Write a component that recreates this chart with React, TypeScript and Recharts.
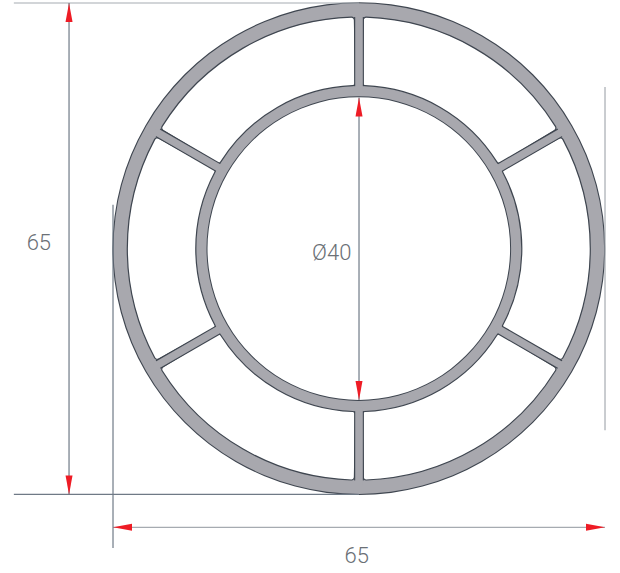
import { Pie, PieChart, Scatter, ScatterChart, XAxis, YAxis } from "recharts";

// drawing is in mm (65 across = 492px)
const discValue = [{ value: 1 }];
const cellValues = [1, 1, 1, 1, 1, 1].map((value) => ({ value }));

const spokes = [
  [{ x: 32.5, y: 54.0 }, { x: 32.5, y: 63.15 }],
  [{ x: 51.12, y: 43.25 }, { x: 59.04, y: 47.83 }],
  [{ x: 51.12, y: 21.75 }, { x: 59.04, y: 17.17 }],
  [{ x: 32.5, y: 11.0 }, { x: 32.5, y: 1.85 }],
  [{ x: 13.88, y: 21.75 }, { x: 5.96, y: 17.17 }],
  [{ x: 13.88, y: 43.25 }, { x: 5.96, y: 47.83 }],
];

const lightLines = [
  [{ x: -13.1, y: 65 }, { x: 32.5, y: 65 }],
  [{ x: 0, y: -4.36 }, { x: 65, y: -4.36 }],
  [{ x: 65, y: 53.9 }, { x: 65, y: 8.5 }],
];
const darkLines = [
  [{ x: -13.1, y: 0 }, { x: 32.5, y: 0 }],
  [{ x: 0, y: 38.3 }, { x: 0, y: -7.1 }],
  [{ x: -5.81, y: 0 }, { x: -5.81, y: 65 }],
  [{ x: 32.5, y: 12.5 }, { x: 32.5, y: 52.5 }],
];

const arrowTips = [
  { x: -5.81, y: 65, dir: "up" },
  { x: -5.81, y: 0, dir: "down" },
  { x: 32.5, y: 52.5, dir: "up" },
  { x: 32.5, y: 12.5, dir: "down" },
  { x: 0, y: -4.36, dir: "left" },
  { x: 65, y: -4.36, dir: "right" },
];

const dimensionLabels = [
  { x: -9.8, y: 33.3, text: "65" },
  { x: 32.2, y: -8.06, text: "65" },
  { x: 28.9, y: 32, text: "Ø40" },
];

const WIDTH = 620;
const HEIGHT = 573;
const RED = "#ee1c25";
const GREY = "#a8a8ae";
const OUTLINE = "#3f4650";

const layer = { position: "absolute", left: 0, top: 0 } as const;

function ArrowHead(props: any) {
  const { cx, cy, payload } = props;
  const len = 19;
  const half = 3.5;
  const pts: Record<string, string> = {
    up: `${cx},${cy} ${cx - half},${cy + len} ${cx + half},${cy + len}`,
    down: `${cx},${cy} ${cx - half},${cy - len} ${cx + half},${cy - len}`,
    left: `${cx},${cy} ${cx + len},${cy - half} ${cx + len},${cy + half}`,
    right: `${cx},${cy} ${cx - len},${cy - half} ${cx - len},${cy + half}`,
  };
  return <polygon points={pts[payload.dir]} fill={RED} />;
}

function DimText(props: any) {
  const { cx, cy, payload } = props;
  return (
    <text
      x={cx}
      y={cy}
      textAnchor="middle"
      dominantBaseline="central"
      fontFamily="Roboto, sans-serif"
      fontWeight={300}
      fontSize={22}
      fill="#6b7076"
    >
      {payload.text}
    </text>
  );
}

const noPoint = () => <g />;

export default function App() {
  const disc = (radius: number, fill: string) => (
    <Pie
      data={discValue}
      dataKey="value"
      cx={358.8}
      cy={248.6}
      innerRadius={0}
      outerRadius={radius}
      startAngle={0}
      endAngle={360}
      fill={fill}
      stroke="none"
      isAnimationActive={false}
    />
  );

  return (
    <div style={{ ...layer, width: WIDTH, height: HEIGHT }}>
      <div style={layer}>
        <PieChart width={WIDTH} height={HEIGHT} margin={{ top: 0, right: 0, bottom: 0, left: 0 }}>
          {disc(246.4, OUTLINE)}
          {disc(245.3, GREY)}
          <Pie
            data={cellValues}
            dataKey="value"
            cx={358.8}
            cy={248.6}
            innerRadius={163}
            outerRadius={231.5}
            startAngle={91.1}
            endAngle={451.1}
            paddingAngle={2.2}
            cornerRadius={3}
            fill="#ffffff"
            stroke={OUTLINE}
            strokeWidth={1.2}
            isAnimationActive={false}
          />
          {disc(152.3, OUTLINE)}
          {disc(151.3, "#ffffff")}
        </PieChart>
      </div>
      <div style={layer}>
        <ScatterChart width={WIDTH} height={HEIGHT} margin={{ top: 0, right: 0, bottom: 0, left: 0 }}>
          <XAxis type="number" dataKey="x" domain={[-14.93, 66.98]} hide />
          <YAxis type="number" dataKey="y" domain={[-10.4, 65.4]} hide />
          {spokes.map((d, i) => (
            <Scatter
              key={`edge-${i}`}
              data={d}
              line={{ stroke: OUTLINE, strokeWidth: 9.8 }}
              shape={noPoint}
              isAnimationActive={false}
            />
          ))}
          {spokes.map((d, i) => (
            <Scatter
              key={`web-${i}`}
              data={d}
              line={{ stroke: GREY, strokeWidth: 7.6, strokeLinecap: "square" }}
              shape={noPoint}
              isAnimationActive={false}
            />
          ))}
          {lightLines.map((d, i) => (
            <Scatter
              key={`light-${i}`}
              data={d}
              line={{ stroke: "#a6abb1", strokeWidth: 1.2 }}
              shape={noPoint}
              isAnimationActive={false}
            />
          ))}
          {darkLines.map((d, i) => (
            <Scatter
              key={`dark-${i}`}
              data={d}
              line={{ stroke: "#6f7a86", strokeWidth: 1.2 }}
              shape={noPoint}
              isAnimationActive={false}
            />
          ))}
          <Scatter data={arrowTips} shape={ArrowHead} isAnimationActive={false} />
          <Scatter data={dimensionLabels} shape={DimText} isAnimationActive={false} />
        </ScatterChart>
      </div>
    </div>
  );
}
